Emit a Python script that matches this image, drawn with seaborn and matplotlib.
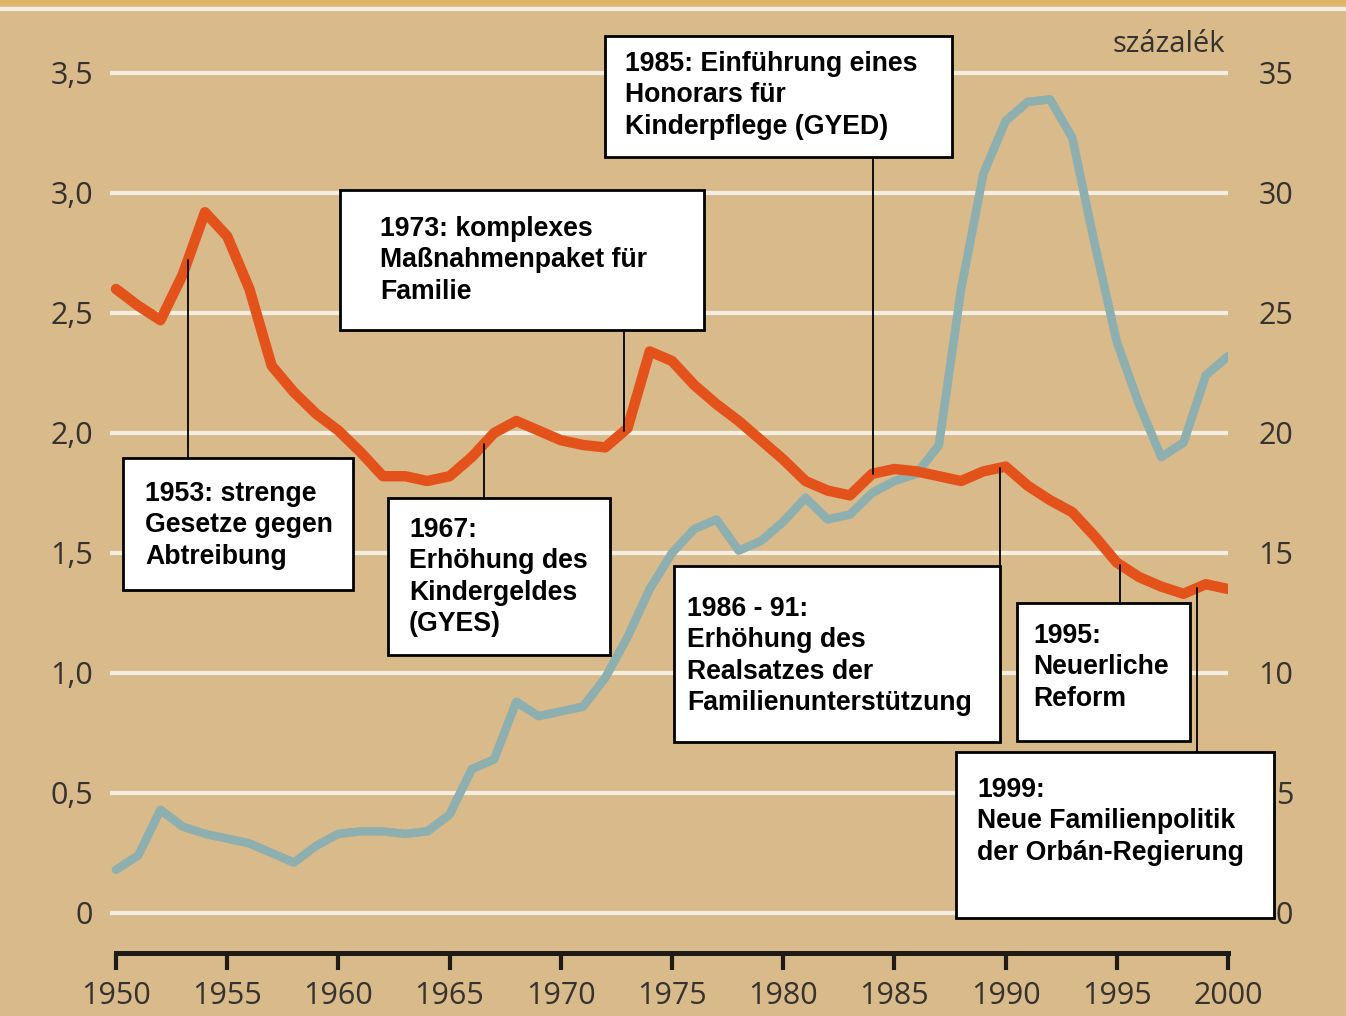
import numpy as np
import pandas as pd
import matplotlib.pyplot as plt
import seaborn as sns
from matplotlib.patches import Rectangle
from matplotlib.lines import Line2D

# --- data ---
years = list(range(1950, 2001))
# Gesamtfruchtbarkeitsrate (linke Achse)
fertility = [2.60, 2.53, 2.47, 2.66, 2.92, 2.82, 2.60, 2.28, 2.17, 2.08,
             2.01, 1.92, 1.82, 1.82, 1.80, 1.82, 1.90, 2.00, 2.05, 2.01,
             1.97, 1.95, 1.94, 2.02, 2.34, 2.30, 2.20, 2.12, 2.05, 1.97,
             1.89, 1.80, 1.76, 1.74, 1.83, 1.85, 1.84, 1.82, 1.80, 1.84,
             1.86, 1.78, 1.72, 1.67, 1.57, 1.46, 1.40, 1.36, 1.33, 1.37,
             1.35]
# százalék (rechte Achse)
percent = [1.8, 2.4, 4.3, 3.6, 3.3, 3.1, 2.9, 2.5, 2.1, 2.8,
           3.3, 3.4, 3.4, 3.3, 3.4, 4.1, 6.0, 6.4, 8.8, 8.2,
           8.4, 8.6, 9.8, 11.5, 13.5, 15.0, 16.0, 16.4, 15.1, 15.5,
           16.3, 17.3, 16.4, 16.6, 17.5, 18.0, 18.3, 19.5, 26.0, 30.8,
           33.0, 33.8, 33.9, 32.3, 27.9, 23.8, 21.2, 19.0, 19.6, 22.4,
           23.2]

left_ticks = [0, 0.5, 1.0, 1.5, 2.0, 2.5, 3.0, 3.5]
left_labels = ['0', '0,5', '1,0', '1,5', '2,0', '2,5', '3,0', '3,5']
right_ticks = [0, 5, 10, 15, 20, 25, 30, 35]
right_labels = ['0', '5', '10', '15', '20', '25', '30', '35']
x_ticks = [1950, 1955, 1960, 1965, 1970, 1975, 1980, 1985, 1990, 1995, 2000]

note_texts = [
    "1953: strenge\nGesetze gegen\nAbtreibung",
    "1973: komplexes\nMaßnahmenpaket für\nFamilie",
    "1985: Einführung eines\nHonorars für\nKinderpflege (GYED)",
    "1967:\nErhöhung des\nKindergeldes\n(GYES)",
    "1986 - 91:\nErhöhung des\nRealsatzes der\nFamilienunterstützung",
    "1995:\nNeuerliche\nReform",
    "1999:\nNeue Familienpolitik\nder Orbán-Regierung",
]
# where the pointer line meets the curve (years)
note_years = [1953.24, 1972.84, 1984.04, 1966.55, 1989.75, 1995.14, 1998.61]

# layout: box (left, top, right, bottom) in image pixels, text x, first line centre
note_boxes = [(123, 458, 353, 590), (340, 190, 704, 330), (605, 36, 952, 157),
              (388, 498, 610, 655), (674, 566, 1000, 742), (1017, 603, 1190, 741),
              (956, 752, 1274, 918)]
note_text_pos = [(145, 492), (380, 227), (625, 62), (409, 528), (687, 607),
                 (1033, 634), (977, 788)]

df = pd.DataFrame({'year': years, 'fertility': fertility, 'percent': percent})

W, H = 1346, 1016
bg = '#D9BA8A'
sns.set_style('white')
plt.rcParams['font.family'] = ['Open Sans', 'DejaVu Sans']

fig = plt.figure(figsize=(W / 100, H / 100), dpi=100, facecolor=bg)
fig.patches.append(Rectangle((0, 1 - 5 / H), 1, 5 / H, transform=fig.transFigure,
                             facecolor='#DDB565', linewidth=0, zorder=-5))
fig.lines.append(Line2D([0, 1], [1 - 9 / H, 1 - 9 / H], transform=fig.transFigure,
                        color='#F4EEE4', linewidth=3, zorder=-5))

ax = fig.add_axes([110 / W, 63 / H, 1118 / W, 953 / H])
ax2 = ax.twinx()

px_year = 22.24
ax.set_xlim(1950 - 6 / px_year, 2000)
ax.set_ylim(-40 / 240, 913 / 240)
ax2.set_ylim(-400 / 240, 9130 / 240)

sns.lineplot(data=df, x='year', y='percent', ax=ax2, color='#8EAFAF', linewidth=6.2)
sns.lineplot(data=df, x='year', y='fertility', ax=ax, color='#E3521B', linewidth=7.5)
ax.set_zorder(ax2.get_zorder() + 1)
ax.patch.set_visible(False)
ax2.patch.set_visible(False)

for v in left_ticks:
    ax2.axhline(v * 10, color='#F3EDE2', linewidth=3, zorder=0)

ax.set_yticks(left_ticks)
ax.set_yticklabels(left_labels)
ax2.set_yticks(right_ticks)
ax2.set_yticklabels(right_labels)
ax.set_xticks(x_ticks)
ax.set_xticklabels([str(x) for x in x_ticks])
ax.set_xlabel('')
ax.set_ylabel('')
ax2.set_ylabel('')

tick_color = '#36322E'
ax.tick_params(axis='y', length=0, pad=12, labelsize=22, labelcolor=tick_color)
ax2.tick_params(axis='y', length=0, pad=47, labelsize=22, labelcolor=tick_color)
for t in ax2.get_yticklabels():
    t.set_horizontalalignment('right')
ax.tick_params(axis='x', bottom=True, direction='out', length=12, width=3,
               color='#1E1A16', pad=8, labelsize=22, labelcolor=tick_color)

for a in (ax, ax2):
    for s in ('top', 'left', 'right', 'bottom'):
        a.spines[s].set_visible(False)
ax.spines['bottom'].set_visible(True)
ax.spines['bottom'].set_color('#1E1A16')
ax.spines['bottom'].set_linewidth(3.6)
ax.spines['bottom'].set_bounds(1950, 2000)

fig.text(1225 / W, 1 - 45 / H, 'százalék', ha='right', va='center',
         fontsize=21, color=tick_color)

# annotation boxes with pointer lines
inv = ax.transData.inverted()
for text, yr, box, tpos in zip(note_texts, note_years, note_boxes, note_text_pos):
    l, t, r, b = box
    fig.patches.append(Rectangle((l / W, 1 - b / H), (r - l) / W, (b - t) / H,
                                 transform=fig.transFigure, facecolor='white',
                                 edgecolor='black', linewidth=2, zorder=10))
    fig.text(tpos[0] / W, 1 - (tpos[1] - 11) / H, text, ha='left', va='top',
             fontsize=19.2, fontweight='bold', family=['Liberation Sans', 'DejaVu Sans'],
             linespacing=1.27, color='black', zorder=11)
    y_curve = np.interp(yr, years, fertility)
    # pointer goes to the nearer box edge
    y_curve_px = H - ax.transData.transform((yr, y_curve))[1]
    edge_px = t if t > y_curve_px else b
    y_edge = inv.transform((0, H - edge_px))[1]
    ax.plot([yr, yr], [y_curve, y_edge], color='black', linewidth=1.3, zorder=5)

fig.savefig('out.png', dpi=100, facecolor=bg)
